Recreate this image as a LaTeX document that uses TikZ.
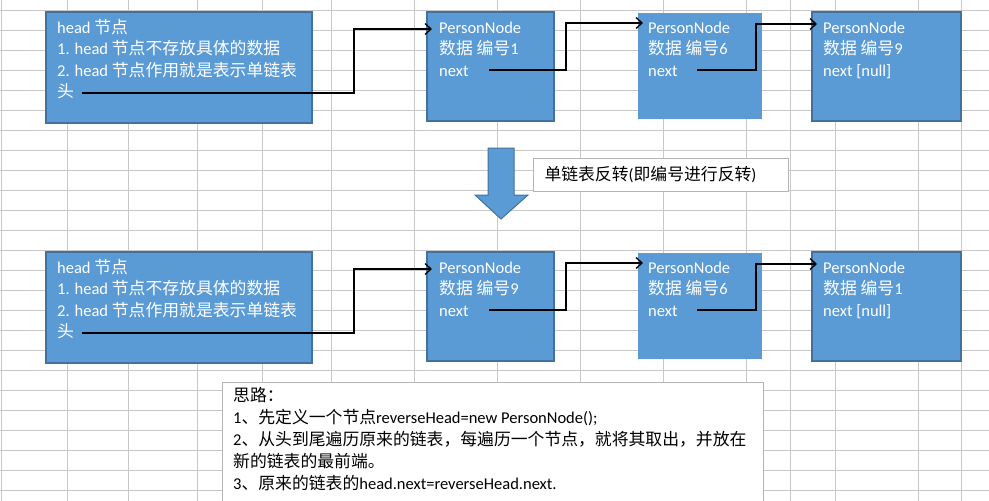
\documentclass[tikz,border=0pt]{standalone}
\usepackage{fontspec}
\setmainfont{Carlito}[Numbers=Lining]
\newfontfamily\cjk{Noto Sans CJK SC}[Scale=1.02]
\usetikzlibrary{arrows.meta,positioning,calc}
\definecolor{cellblue}{HTML}{5B9BD5}
\definecolor{celledge}{HTML}{41719C}
\definecolor{gridgray}{HTML}{C8C8C8}
\definecolor{noteedge}{HTML}{B4B4B4}
\newcommand{\zh}[1]{{\cjk #1}}

\begin{document}
\begin{tikzpicture}[x=1pt, y=-1pt,
  cell/.style={draw=celledge, line width=1.5pt, fill=cellblue, anchor=north west, inner sep=0pt},
  plaincell/.style={cell, draw=none},
  celltext/.style={anchor=base west, align=left, inner sep=0pt, text=white, font=\fontsize{16.5}{21.5}\selectfont},
  notebox/.style={draw=noteedge, line width=1pt, fill=white, anchor=north west, inner sep=0pt, font=\fontsize{16.5}{22}\selectfont},
  notetext/.style={anchor=base west, align=left, inner sep=0pt, font=\fontsize{16.5}{22}\selectfont},
  gridline/.style={gridgray, line width=1pt},
  link/.style={-{Straight Barb[length=6pt, width=11pt, line width=1.3pt]}, line width=1.4pt, shorten >=-6pt},
  downarrow/.style={fill=cellblue, draw=celledge, line width=1pt}
]

\path[use as bounding box, clip] (0,0) rectangle (989,501);
\fill[white] (0,0) rectangle (989,501);

% sheet grid
\foreach \gx in {1,67,128,197,262,331,414,497,580,663,746,790,835,918,961}
  \draw[gridline] (\gx,0) -- (\gx,501);
\foreach \gy in {10,30,...,490}
  \draw[gridline] (0,\gy) -- (989,\gy);

% original list (text nodes sit on the baseline of their last line)
\node[cell, minimum width=266, minimum height=111] (head) at (45,11) {};
\node[cell, minimum width=127, minimum height=109] (node1) at (426,11) {};
\node[plaincell, minimum width=124, minimum height=106] (node6) at (637,12) {};
\node[cell, minimum width=149, minimum height=109] (node9) at (811,11) {};

\node[celltext] (headtxt) at (57,97.5) {head \zh{节点}\\1. head \zh{节点不存放具体的数据}\\2. head \zh{节点作用就是表示单链表}\\\zh{头}};
\node[celltext] (node1txt) at (439,76) {PersonNode\\\zh{数据 编号}1\\next};
\node[celltext] (node6txt) at (648,76) {PersonNode\\\zh{数据 编号}6\\next};
\node[celltext] (node9txt) at (823,76) {PersonNode\\\zh{数据 编号}9\\next [null]};

\coordinate (headout) at (82,93);
\coordinate (node1out) at (489,70);
\coordinate (node6out) at (697,70);

\draw[link] (headout) -- ++(272,0) |- ([yshift=-18pt]node1.north west);
\draw[link] (node1out) -- ++(77,0) |- ([yshift=-11pt]node6.north west);
\draw[link] (node6out) -- ++(59,0) |- ([yshift=-13pt]node9.north west);

% reversing step
\draw[downarrow] (488,148) -- (514,148) -- (514,195) -- (528,195) -- (501,219) -- (475,195) -- (488,195) -- cycle;
\node[notebox, minimum height=33, inner xsep=11pt, text width=233pt, align=left] (caption) at (533,158) {\zh{单链表反转}(\zh{即编号进行反转})};

% reversed list
\node[cell, minimum width=266, minimum height=111] (rhead) at (45,251) {};
\node[cell, minimum width=127, minimum height=109] (rnode9) at (426,251) {};
\node[plaincell, minimum width=124, minimum height=106] (rnode6) at (637,252) {};
\node[cell, minimum width=149, minimum height=109] (rnode1) at (811,251) {};

\node[celltext] (rheadtxt) at (57,337.5) {head \zh{节点}\\1. head \zh{节点不存放具体的数据}\\2. head \zh{节点作用就是表示单链表}\\\zh{头}};
\node[celltext] (rnode9txt) at (439,316) {PersonNode\\\zh{数据 编号}9\\next};
\node[celltext] (rnode6txt) at (648,316) {PersonNode\\\zh{数据 编号}6\\next};
\node[celltext] (rnode1txt) at (823,316) {PersonNode\\\zh{数据 编号}1\\next [null]};

\coordinate (rheadout) at (82,333);
\coordinate (rnode9out) at (489,310);
\coordinate (rnode6out) at (697,310);

\draw[link] (rheadout) -- ++(272,0) |- ([yshift=-18pt]rnode9.north west);
\draw[link] (rnode9out) -- ++(77,0) |- ([yshift=-11pt]rnode6.north west);
\draw[link] (rnode6out) -- ++(59,0) |- ([yshift=-13pt]rnode1.north west);

% method notes
\node[notebox, minimum width=541, minimum height=140] (notes) at (222,382) {};
\node[notetext] (notestxt) at (233,489) {\zh{思路：}\\1\zh{、先定义一个节点}reverseHead=new PersonNode();\\2\zh{、从头到尾遍历原来的链表，每遍历一个节点，就将其取出，并放在}\\\zh{新的链表的最前端。}\\3\zh{、原来的链表的}head.next=reverseHead.next.};

\end{tikzpicture}
\end{document}
